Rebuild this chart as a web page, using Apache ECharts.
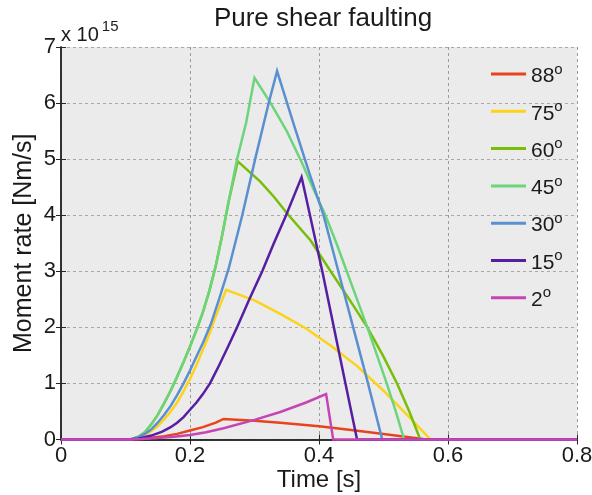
<!DOCTYPE html>
<html>
<head>
<meta charset="utf-8">
<script src="https://cdn.jsdelivr.net/npm/echarts@6/dist/echarts.min.js"></script>
<style>
  html, body { margin: 0; padding: 0; background: #fff; }
  #chart { width: 592px; height: 495px; }
</style>
</head>
<body>
<div id="chart"></div>
<script>
// moment rate curves, values in units of 1e15 Nm/s
const t88 = [0, 0.1, 0.12, 0.14, 0.16, 0.18, 0.2, 0.22, 0.24, 0.252, 0.30, 0.34, 0.40, 0.45, 0.50, 0.567, 0.8];
const m88 = [0, 0, 0.01, 0.03, 0.06, 0.1, 0.16, 0.22, 0.3, 0.366, 0.335, 0.30, 0.235, 0.17, 0.10, 0, 0];

const t75 = [0, 0.1, 0.11, 0.12, 0.13, 0.14, 0.15, 0.16, 0.17, 0.18, 0.19, 0.2, 0.21, 0.22, 0.23, 0.24, 0.256,
  0.30, 0.34, 0.38, 0.42, 0.46, 0.50, 0.54, 0.573, 0.8];
const m75 = [0, 0, 0.01, 0.04, 0.08, 0.15, 0.24, 0.36, 0.5, 0.66, 0.86, 1.08, 1.33, 1.6, 1.88, 2.2, 2.67,
  2.48, 2.24, 1.98, 1.66, 1.3, 0.87, 0.4, 0, 0];

const t60 = [0, 0.1, 0.11, 0.12, 0.13, 0.14, 0.15, 0.16, 0.17, 0.18, 0.19, 0.2, 0.21, 0.22, 0.23, 0.24, 0.25, 0.26, 0.274,
  0.309, 0.33, 0.353, 0.387, 0.418, 0.447, 0.475, 0.499, 0.521, 0.54, 0.557, 0.8];
const m60 = [0, 0, 0.01, 0.05, 0.13, 0.27, 0.44, 0.65, 0.87, 1.12, 1.38, 1.66, 1.95, 2.27, 2.65, 3.1, 3.65, 4.25, 4.96,
  4.60, 4.33, 4.0, 3.55, 3.0, 2.5, 2.0, 1.5, 1.0, 0.5, 0, 0];

const t45 = [0, 0.1, 0.11, 0.12, 0.13, 0.14, 0.15, 0.16, 0.17, 0.18, 0.19, 0.2, 0.21, 0.22, 0.23, 0.24, 0.25, 0.26, 0.273, 0.287, 0.300,
  0.325, 0.35, 0.373, 0.392, 0.41, 0.427, 0.443, 0.459, 0.475, 0.49, 0.505, 0.519, 0.532, 0.8];
const m45 = [0, 0, 0.01, 0.05, 0.13, 0.27, 0.44, 0.65, 0.87, 1.12, 1.38, 1.66, 1.95, 2.27, 2.65, 3.1, 3.65, 4.25, 5.0, 5.65, 6.45,
  6.0, 5.5, 4.95, 4.45, 4.0, 3.5, 3.0, 2.5, 2.0, 1.5, 1.0, 0.5, 0, 0];

const t30 = [0, 0.1, 0.11, 0.12, 0.13, 0.14, 0.15, 0.16, 0.17, 0.18, 0.19, 0.2, 0.21, 0.22, 0.232, 0.245, 0.26, 0.27, 0.281, 0.301, 0.322, 0.335,
  0.36, 0.385, 0.407, 0.43, 0.453, 0.476, 0.498, 0.8];
const m30 = [0, 0, 0.01, 0.04, 0.1, 0.18, 0.3, 0.44, 0.6, 0.79, 1.0, 1.23, 1.48, 1.72, 2.05, 2.5, 3.05, 3.5, 4.0, 5.0, 6.0, 6.57,
  5.65, 4.75, 4.0, 3.0, 2.0, 1.0, 0, 0];

const t15 = [0, 0.1, 0.12, 0.14, 0.157, 0.17, 0.18, 0.19, 0.2, 0.21, 0.22, 0.231, 0.245, 0.26, 0.273, 0.292, 0.312, 0.33, 0.349, 0.373,
  0.406, 0.441, 0.459, 0.8];
const m15 = [0, 0, 0.015, 0.07, 0.14, 0.22, 0.3, 0.4, 0.53, 0.66, 0.81, 1.0, 1.32, 1.68, 2.0, 2.5, 3.0, 3.5, 4.0, 4.68,
  2.95, 1.0, 0, 0];

const t2 = [0, 0.1, 0.125, 0.15, 0.175, 0.2, 0.225, 0.252, 0.30, 0.34, 0.38, 0.411, 0.422, 0.8];
const m2 = [0, 0, 0.008, 0.025, 0.05, 0.08, 0.13, 0.2, 0.35, 0.49, 0.66, 0.81, 0, 0];

const angles = ['88', '75', '60', '45', '30', '15', '2'];
const colors = ['#e8431c', '#fdd31a', '#76bf06', '#6cd57c', '#5a8fd0', '#561ea0', '#c645b4'];
const times = [t88, t75, t60, t45, t30, t15, t2];
const rates = [m88, m75, m60, m45, m30, m15, m2];

const xTicks = [0, 0.2, 0.4, 0.6, 0.8];

const font = "'Liberation Sans', Arial, sans-serif";
const axisColor = '#262626';

let myChart = echarts.init(document.getElementById('chart'));

let series = angles.map((a, i) => ({
  name: a,
  type: 'line',
  data: times[i].map((t, k) => [t, rates[i][k]]),
  showSymbol: false,
  clip: false,
  color: colors[i],
  lineStyle: { width: 2.5, color: colors[i], join: 'miter' }
}));

let frameAxis = {
  min: 0,
  axisLine: { show: true, lineStyle: { color: axisColor, width: 1.5 } },
  axisTick: { show: true, inside: true, length: 5, lineStyle: { color: axisColor } },
  axisLabel: { show: false },
  splitLine: { show: false }
};

let option = {
  animation: false,
  backgroundColor: '#fff',
  title: {
    text: 'Pure shear faulting',
    left: 318,
    top: 1,
    textAlign: 'center',
    textStyle: { fontFamily: font, fontSize: 26, fontWeight: 'normal', color: '#1a1a1a' }
  },
  grid: {
    left: 61, right: 15, top: 47, bottom: 55.5,
    outerBoundsMode: 'none',
    show: true,
    backgroundColor: '#ebebeb',
    borderWidth: 0
  },
  legend: {
    orient: 'vertical',
    left: 486,
    top: 56,
    itemGap: 11.3,
    itemWidth: 35,
    itemHeight: 3,
    icon: 'rect',
    formatter: name => '{n|' + name + '}{s|o}',
    textStyle: {
      fontFamily: font,
      color: '#1a1a1a',
      rich: {
        n: { fontFamily: font, fontSize: 21, lineHeight: 24, padding: [5, 0, 0, 0], color: '#1a1a1a' },
        s: { fontFamily: font, fontSize: 15, lineHeight: 15, verticalAlign: 'top', color: '#1a1a1a' }
      }
    }
  },
  graphic: [
    {
      type: 'text',
      left: 61,
      top: 19,
      style: {
        text: '{a|x 10}{b|15}',
        rich: {
          a: { fontFamily: font, fontSize: 20, lineHeight: 26, verticalAlign: 'bottom', fill: '#1a1a1a' },
          b: { fontFamily: font, fontSize: 15, lineHeight: 14, verticalAlign: 'top', padding: [0, 0, 0, 3], fill: '#1a1a1a' }
        }
      }
    }
  ],
  xAxis: [
    {
      type: 'value',
      min: 0,
      max: 0.8,
      interval: 0.2,
      name: 'Time [s]',
      nameLocation: 'middle',
      nameGap: 29,
      nameMoveOverlap: false,
      nameTextStyle: { fontFamily: font, fontSize: 24, color: '#1a1a1a' },
      axisLine: { show: true, lineStyle: { color: axisColor, width: 1.5 } },
      axisTick: { show: true, inside: true, length: 5, lineStyle: { color: axisColor } },
      axisLabel: {
        fontFamily: font, fontSize: 22, color: '#1a1a1a', margin: 5,
        formatter: v => xTicks.includes(+v.toFixed(1)) ? String(+v.toFixed(1)) : ''
      },
      splitLine: { show: true, lineStyle: { color: '#9a9a9a', type: [3, 3], width: 1 } }
    },
    Object.assign({}, frameAxis, { type: 'value', max: 0.8, interval: 0.2, position: 'top' })
  ],
  yAxis: [
    {
      type: 'value',
      min: 0,
      max: 7,
      interval: 1,
      name: 'Moment rate [Nm/s]',
      nameLocation: 'middle',
      nameGap: 24,
      nameMoveOverlap: false,
      nameTextStyle: { fontFamily: font, fontSize: 25, color: '#1a1a1a' },
      axisLine: { show: true, lineStyle: { color: axisColor, width: 1.5 } },
      axisTick: { show: true, inside: true, length: 5, lineStyle: { color: axisColor } },
      axisLabel: { fontFamily: font, fontSize: 22, color: '#1a1a1a', margin: 5 },
      splitLine: { show: true, lineStyle: { color: '#a8a8a8', type: [3, 3], width: 1 } }
    },
    Object.assign({}, frameAxis, { type: 'value', max: 7, interval: 1, position: 'right' })
  ],
  series: series
};

myChart.setOption(option);
window.addEventListener('resize', () => myChart.resize());
</script>
</body>
</html>
